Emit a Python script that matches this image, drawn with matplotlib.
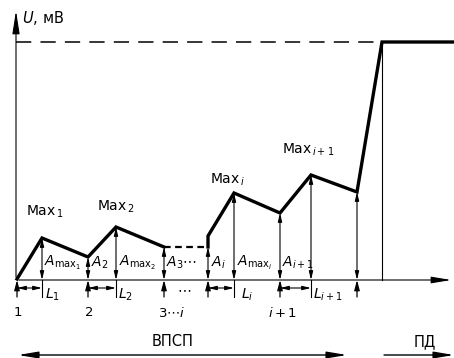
import matplotlib
matplotlib.use('Agg')
import matplotlib.pyplot as plt

plt.rcParams['mathtext.fontset'] = 'dejavusans'
plt.rcParams['font.family'] = ['DejaVu Sans']

# potential curve (x position, U), baseline U = 0
curve1_x = [17, 42, 88, 116, 164]
curve1_u = [1, 42, 23, 53, 33]
gap_x = [164, 208]
gap_u = [33, 33]
curve2_x = [208, 208, 234, 280, 311, 357, 382, 454]
curve2_u = [33, 44, 87, 67, 105, 88, 238, 238]
top_level = 238

# amplitude arrows (x, height)
amp_x = [42, 88, 116, 164, 208, 234, 280, 311, 357]
amp_u = [42, 23, 53, 33, 33, 87, 67, 105, 88]
# stimulus points below the axis
stim_x = [17, 88, 164, 208, 280, 357]
tick_x = [42, 116, 234, 311]
# latency spans L
lat_start = [17, 88, 208, 280]
lat_end = [42, 116, 234, 311]

max_labels = [r'$\mathrm{Max}_{\,1}$', r'$\mathrm{Max}_{\,2}$',
              r'$\mathrm{Max}_{\,i}$', r'$\mathrm{Max}_{\,i+1}$']
max_pos = [(26, 68), (97, 73), (210, 100), (282, 130)]
amp_labels = [r'$A_{\mathrm{max}_1}$', r'$A_2$', r'$A_{\mathrm{max}_2}$',
              r'$A_3\cdots$', r'$A_i$', r'$A_{\mathrm{max}_i}$', r'$A_{i+1}$']
amp_lab_x = [44, 91, 119, 166, 211, 237, 282]
lat_labels = [r'$L_1$', r'$L_2$', r'$L_i$', r'$L_{i+1}$']
lat_lab_x = [45, 118, 241, 313]
num_labels = [r'$1$', r'$2$', r'$3\cdots i$', r'$i+1$']
num_x = [13, 84, 158, 268]

fig = plt.figure(figsize=(4.54, 3.58), dpi=100)
ax = fig.add_axes([0, 0, 1, 1])
ax.set_xlim(0, 454)
ax.set_ylim(-78, 280)
ax.axis('off')

k = 'black'
# axes
ax.annotate('', xy=(16, 272), xytext=(16, 0),
            arrowprops=dict(arrowstyle='-|>,head_length=1.4,head_width=0.22', color=k, lw=0.8))
ax.annotate('', xy=(454, 0), xytext=(16, 0),
            arrowprops=dict(arrowstyle='-|>,head_length=1.2,head_width=0.2', color=k, lw=0.8))
ax.text(22, 262, r'$U$, мВ', fontsize=10.5, va='center', ha='left')

# dashed top level and vertical
ax.plot([16, 382], [top_level, top_level], color=k, lw=1.1, dashes=(10, 6))
ax.plot([382, 382], [0, top_level], color=k, lw=0.8)

# curve
ax.plot(curve1_x, curve1_u, color=k, lw=2.4, solid_joinstyle='miter')
ax.plot(gap_x, gap_u, color=k, lw=1.6, dashes=(3, 2))
ax.plot(curve2_x, curve2_u, color=k, lw=2.4, solid_joinstyle='miter')

# amplitude double arrows
for x, u in zip(amp_x, amp_u):
    ax.annotate('', xy=(x, u), xytext=(x, 0),
                arrowprops=dict(arrowstyle='<|-|>,head_length=0.5,head_width=0.12',
                                color=k, lw=0.8, shrinkA=0, shrinkB=0))

# stimulus arrows below axis
for x in stim_x:
    ax.annotate('', xy=(x, 0), xytext=(x, -17),
                arrowprops=dict(arrowstyle='-|>,head_length=0.6,head_width=0.16',
                                color=k, lw=0.9, shrinkA=0, shrinkB=0))
for x in tick_x:
    ax.plot([x, x], [0, -17], color=k, lw=0.8)

# latency arrows
for a, b in zip(lat_start, lat_end):
    ax.annotate('', xy=(b, -8), xytext=(a, -8),
                arrowprops=dict(arrowstyle='<|-|>,head_length=0.5,head_width=0.12',
                                color=k, lw=0.8, shrinkA=0, shrinkB=0))
ax.text(184, -9, r'$\cdots$', fontsize=10, ha='center', va='center')

# labels
for lab, (x, u) in zip(max_labels, max_pos):
    ax.text(x, u, lab, fontsize=10, ha='left', va='center')
for lab, x in zip(amp_labels, amp_lab_x):
    ax.text(x, 17, lab, fontsize=10, ha='left', va='center')
for lab, x in zip(lat_labels, lat_lab_x):
    ax.text(x, -15, lab, fontsize=10, ha='left', va='center')
for lab, x in zip(num_labels, num_x):
    ax.text(x, -33, lab, fontsize=9.5, ha='left', va='center')

ax.text(173, -62, 'ВПСП', fontsize=10.5, ha='center', va='center')
ax.text(425, -62, 'ПД', fontsize=10.5, ha='center', va='center')
ax.annotate('', xy=(18, -75), xytext=(347, -75),
            arrowprops=dict(arrowstyle='<|-|>,head_length=1.2,head_width=0.2',
                            color=k, lw=1.0, shrinkA=0, shrinkB=0))
ax.annotate('', xy=(454, -75), xytext=(384, -75),
            arrowprops=dict(arrowstyle='-|>,head_length=1.2,head_width=0.2',
                            color=k, lw=1.0, shrinkA=0, shrinkB=0))

fig.savefig('out.png', dpi=100)
